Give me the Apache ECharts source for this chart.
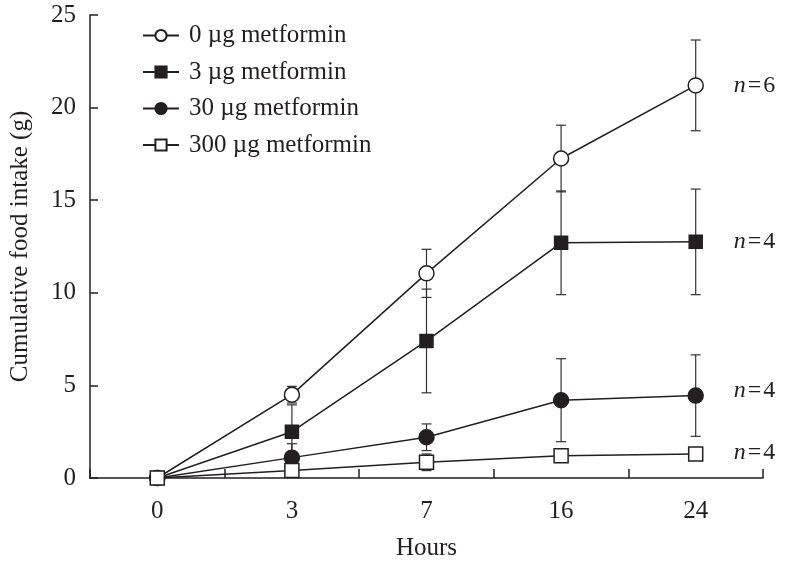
<!DOCTYPE html>
<html><head><meta charset="utf-8">
<script src="https://cdn.jsdelivr.net/npm/echarts@6/dist/echarts.min.js"></script>
<style>html,body{margin:0;padding:0;background:#fff}#c{width:788px;height:561px}</style>
</head><body><div id="c"></div>
<script>
const hours = ['0', '3', '7', '16', '24'];
const names = ['0 µg metformin', '3 µg metformin', '30 µg metformin', '300 µg metformin'];
const mean0 = [0, 4.5, 11.05, 17.25, 21.2];
const err0 = [0, 0.45, 1.3, 1.8, 2.45];
const mean3 = [0, 2.5, 7.4, 12.7, 12.75];
const err3 = [0, 1.45, 2.8, 2.8, 2.85];
const mean30 = [0, 1.1, 2.2, 4.2, 4.45];
const err30 = [0, 0.75, 0.72, 2.24, 2.2];
const mean300 = [0, 0.4, 0.85, 1.2, 1.3];
const err300 = [0, 0.3, 0.45, 0.3, 0.3];
const nCounts = [6, 4, 4, 4];
const yTicks = [0, 5, 10, 15, 20, 25];

const INK = '#231f20';
const FONT = '"Liberation Serif", "DejaVu Serif", serif';
const means = [mean0, mean3, mean30, mean300];
const errs = [err0, err3, err30, err300];
const symbols = ['circle', 'rect', 'circle', 'rect'];
const fills = ['#ffffff', INK, INK, '#ffffff'];
const sizes = [15, 13, 15, 14];
const labelOffsets = [[0, 0], [0, 0], [0, -5], [0, -1]];

function errSeries(mean, err) {
  return {
    type: 'custom', silent: true, z: 1,
    data: mean.map((m, i) => [i, m - err[i], m + err[i]]),
    encode: { x: 0, y: [1, 2] },
    renderItem(params, api) {
      const lo = api.coord([api.value(0), api.value(1)]);
      const hi = api.coord([api.value(0), api.value(2)]);
      if (Math.abs(hi[1] - lo[1]) < 0.5) return null;
      const w = 5;
      const st = { stroke: '#333333', lineWidth: 1.2 };
      return {
        type: 'group', children: [
          { type: 'line', shape: { x1: lo[0], y1: lo[1], x2: hi[0], y2: hi[1] }, style: st },
          { type: 'line', shape: { x1: lo[0] - w, y1: lo[1], x2: lo[0] + w, y2: lo[1] }, style: st },
          { type: 'line', shape: { x1: hi[0] - w, y1: hi[1], x2: hi[0] + w, y2: hi[1] }, style: st }
        ]
      };
    }
  };
}

const series = [];
means.forEach((m, k) => series.push(errSeries(m, errs[k])));
means.forEach((m, k) => {
  series.push({
    name: names[k], type: 'line', data: m, z: 3,
    symbol: symbols[k], symbolSize: sizes[k], showAllSymbol: true,
    lineStyle: { color: INK, width: 1.5 },
    itemStyle: { color: fills[k], borderColor: INK, borderWidth: 1.5 },
    emphasis: { disabled: true },
    endLabel: {
      show: true, distance: 38, offset: labelOffsets[k],
      formatter: () => '{i|n}{e|=}{v|' + nCounts[k] + '}',
      rich: {
        i: { fontStyle: 'italic', fontFamily: FONT, fontSize: 24, color: INK },
        e: { fontFamily: FONT, fontSize: 24, color: INK, padding: [0, 2] },
        v: { fontFamily: FONT, fontSize: 24, color: INK }
      }
    }
  });
});

const chart = echarts.init(document.getElementById('c'), null, { renderer: 'canvas' });
chart.setOption({
  animation: false,
  backgroundColor: '#ffffff',
  grid: { left: 90, right: 25, top: 15, bottom: 83, containLabel: false, outerBoundsMode: 'none' },
  legend: {
    data: names, orient: 'vertical', left: 137, top: 18,
    itemWidth: 36, itemHeight: 14, itemGap: 11.5,
    textStyle: { fontFamily: FONT, fontSize: 25, color: INK, padding: [0, 0, 0, 5] },
    selectedMode: false
  },
  xAxis: {
    type: 'category', data: hours, boundaryGap: true,
    name: 'Hours', nameLocation: 'middle', nameGap: 58,
    nameTextStyle: { fontFamily: FONT, fontSize: 25, color: INK },
    axisLine: { show: true, lineStyle: { color: INK, width: 1.5 } },
    axisTick: { show: true, alignWithLabel: false, interval: 0, inside: true, length: 9, lineStyle: { color: INK, width: 1.5 } },
    axisLabel: { fontFamily: FONT, fontSize: 25, color: INK, margin: 21 },
    splitLine: { show: false }
  },
  yAxis: {
    type: 'value', min: yTicks[0], max: yTicks[yTicks.length - 1], interval: 5,
    name: 'Cumulative food intake (g)', nameLocation: 'middle', nameGap: 57,
    nameTextStyle: { fontFamily: FONT, fontSize: 25, color: INK },
    axisLine: { show: true, lineStyle: { color: INK, width: 1.5 } },
    axisTick: { show: true, inside: true, length: 8, lineStyle: { color: INK, width: 1.5 } },
    axisLabel: { fontFamily: FONT, fontSize: 25, color: INK, margin: 14 },
    splitLine: { show: false }
  },
  series: series
});
</script></body></html>
